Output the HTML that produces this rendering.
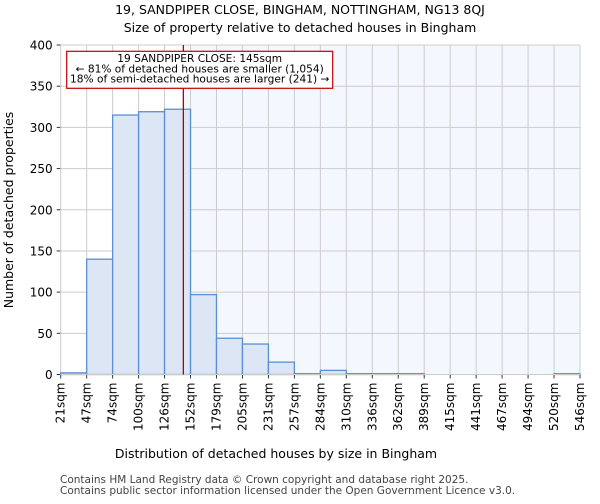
<!DOCTYPE html>
<html><head><meta charset="utf-8"><style>
body{margin:0;background:#fff;font-family:"DejaVu Sans","Liberation Sans",sans-serif;}
</style></head><body>
<svg width="600" height="500" viewBox="0 0 600 500" font-family="DejaVu Sans, Liberation Sans, sans-serif">
<text x="300" y="14" text-anchor="middle" font-size="12.5">19, SANDPIPER CLOSE, BINGHAM, NOTTINGHAM, NG13 8QJ</text>
<text x="300" y="32" text-anchor="middle" font-size="12.5">Size of property relative to detached houses in Bingham</text>
<g id="plot"></g>
<text x="276" y="458" text-anchor="middle" font-size="12.5">Distribution of detached houses by size in Bingham</text>
<text transform="translate(13,210) rotate(-90)" text-anchor="middle" font-size="12.5">Number of detached properties</text>
<text x="60" y="483" font-size="10.5" fill="#444">Contains HM Land Registry data © Crown copyright and database right 2025.</text>
<text x="60" y="494" font-size="10.5" fill="#444">Contains public sector information licensed under the Open Government Licence v3.0.</text>
</svg>
<script>
const tickLabels=["21sqm","47sqm","74sqm","100sqm","126sqm","152sqm","179sqm","205sqm","231sqm","257sqm","284sqm","310sqm","336sqm","362sqm","389sqm","415sqm","441sqm","467sqm","494sqm","520sqm","546sqm"];
const counts=[2,140,315,319,322,97,44,37,15,1,5,1,1,1,0,0,0,0,0,1];
const yTicks=[0,50,100,150,200,250,300,350,400];
const binStart=21, binWidth=26.25, markerValue=145;
const L=60.7,R=580,T=45,B=374.5,ns="http://www.w3.org/2000/svg";
const g=document.getElementById('plot');
const xs=v=>L+(v-binStart)/(binWidth*counts.length)*(R-L);
const ys=v=>B-v/400*(B-T);
function mk(t,a,p){const e=document.createElementNS(ns,t);for(const k in a)e.setAttribute(k,a[k]);(p||g).appendChild(e);return e;}
const mx=xs(markerValue);
let bg=mk('rect',{x:mx,y:T,width:R-mx,height:B-T,fill:'#f4f7fd'});


yTicks.forEach(v=>{const y=ys(v);
 let l=mk('line',{x1:L,x2:R,y1:y,y2:y,stroke:'#ccc','stroke-width':1});
 
 
 mk('line',{x1:L-4,x2:L,y1:y,y2:y,stroke:'#333'});
 let t=mk('text',{x:L-8,y:y+4.5,'text-anchor':'end','font-size':12});t.textContent=v;
 
 
});
tickLabels.forEach((s,i)=>{const x=xs(binStart+i*binWidth);
 let l=mk('line',{x1:x,x2:x,y1:T,y2:B,stroke:'#ccc','stroke-width':1});
 
 
 mk('line',{x1:x,x2:x,y1:B,y2:B+4,stroke:'#333'});
 let t=mk('text',{transform:`translate(${x+4},${B+8}) rotate(-90)`,'text-anchor':'end','font-size':12});t.textContent=s;
 
 
});
counts.forEach((c,i)=>{const x0=xs(binStart+i*binWidth),x1=xs(binStart+(i+1)*binWidth);
 let r=mk('rect',{x:x0,y:ys(c),width:x1-x0,height:B-ys(c),fill:'#dce6f5',stroke:'#5a8fd6','stroke-width':1.3});
 
 
});
mk('line',{x1:L,x2:R,y1:B,y2:B,stroke:'#ccc'});
let m=mk('line',{x1:mx,x2:mx,y1:T,y2:B,stroke:'#b00000','stroke-width':1.3});


let ag=mk('g',{});


mk('rect',{x:66.7,y:51.3,width:266,height:37,fill:'#fff',stroke:'#c00000','stroke-width':1.2},ag);
[["19 SANDPIPER CLOSE: 145sqm",62],["← 81% of detached houses are smaller (1,054)",72.5],["18% of semi-detached houses are larger (241) →",82.5]].forEach(([s,y])=>{
 let t=mk('text',{x:199.7,y:y,'text-anchor':'middle','font-size':10.6},ag);t.textContent=s;});
</script>
</body></html>
